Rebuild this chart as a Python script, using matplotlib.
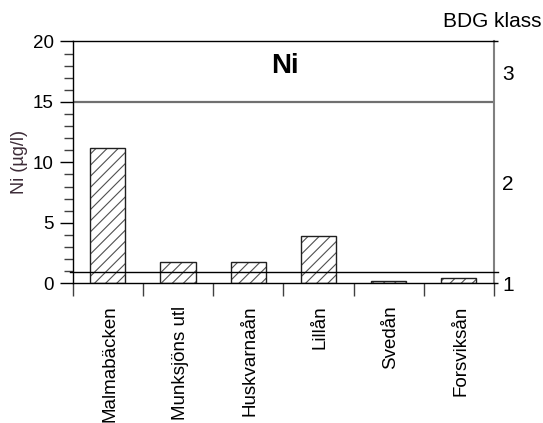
import matplotlib
matplotlib.use("Agg")
import matplotlib.pyplot as plt
import numpy as np
from matplotlib.ticker import FixedLocator, NullFormatter
import matplotlib.transforms as mtransforms

plt.rcParams['font.family'] = ['Liberation Sans', 'DejaVu Sans']
plt.rcParams['hatch.linewidth'] = 0.8

categories = ["Malmabäcken", "Munksjöns utl", "Huskvarnaån", "Lillån", "Svedån", "Forsviksån"]
values = [11.2, 1.75, 1.75, 3.95, 0.2, 0.45]
class_limits = [0.9, 15]
class_labels = ["1", "2", "3"]
class_label_pos = [0.0, 8.3, 17.4]
title = "Ni"
ylabel = "Ni (µg/l)"
right_title = "BDG klass"

fig = plt.figure(figsize=(5.43, 4.23), dpi=100)
ax = fig.add_axes([0.1339, 0.3303, 0.9098 - 0.1339, 0.9019 - 0.3303])

x = np.arange(len(categories))
ax.bar(x, values, width=0.5, color='white', edgecolor='#505050', hatch='///', linewidth=0, zorder=2)
ax.bar(x, values, width=0.5, fill=False, edgecolor='#202020', linewidth=1.0, zorder=3)

ax.set_xlim(-0.5, len(categories) - 0.5)
ax.set_ylim(0, 20)

# class limit lines
ax.axhline(class_limits[1], xmin=0, xmax=0.995, color='#707070', linewidth=1.6, zorder=1)
ax.axhline(class_limits[0], xmin=-0.006, xmax=1.01, color='black', linewidth=1.0, zorder=4, clip_on=False)

# spines
for s in ['top', 'left', 'bottom']:
    ax.spines[s].set_color('black')
    ax.spines[s].set_linewidth(1.0)
ax.spines['right'].set_color('#808080')
ax.spines['right'].set_linewidth(1.5)

# y ticks
ax.set_yticks([0, 5, 10, 15, 20])
ax.yaxis.set_minor_locator(FixedLocator(np.arange(0, 21, 1)))
ax.tick_params(axis='y', which='major', direction='out', length=9.5, width=1.0, labelsize=13.5, pad=4)
ax.tick_params(axis='y', which='minor', direction='out', length=6.2, width=1.0, color='#404040')

# x ticks: boundaries as minor with marks, labels at centers
ax.set_xticks(x)
ax.set_xticklabels(categories, rotation=90, fontsize=13.5, va='top', ha='center')
ax.xaxis.set_minor_locator(FixedLocator(np.arange(-0.5, len(categories), 1)))
ax.tick_params(axis='x', which='major', length=0, pad=16)
ax.tick_params(axis='x', which='minor', direction='out', length=9, width=1.0, color='#404040')
offset = mtransforms.ScaledTranslation(2 / 100, 0, fig.dpi_scale_trans)
for lbl in ax.get_xticklabels():
    lbl.set_transform(lbl.get_transform() + offset)

ax.set_ylabel(ylabel, fontsize=13, color='#3d2c38')
ax.yaxis.set_label_coords(-0.106, 0.5)

ax.text(0.504, 0.898, title, transform=ax.transAxes, fontsize=20, fontweight='bold',
        ha='center', va='center')

# right axis with class labels
ax2 = ax.twinx()
ax2.set_ylim(0, 20)
ax2.yaxis.set_major_locator(FixedLocator(class_label_pos))
ax2.set_yticklabels(class_labels)
ax2.tick_params(axis='y', which='major', length=0, labelsize=15, pad=6)
for s in ax2.spines.values():
    s.set_visible(False)

# small outward ticks on right spine
ax3 = ax.twinx()
ax3.set_ylim(0, 20)
ax3.set_yticks([0, 20])
ax3.yaxis.set_major_formatter(NullFormatter())
ax3.tick_params(axis='y', which='major', direction='out', length=3, width=1.0)
for s in ax3.spines.values():
    s.set_visible(False)

fig.text(0.997, 1 - 21.7 / 423, right_title, fontsize=15, ha='right', va='center')

fig.savefig("out.png", dpi=100)
